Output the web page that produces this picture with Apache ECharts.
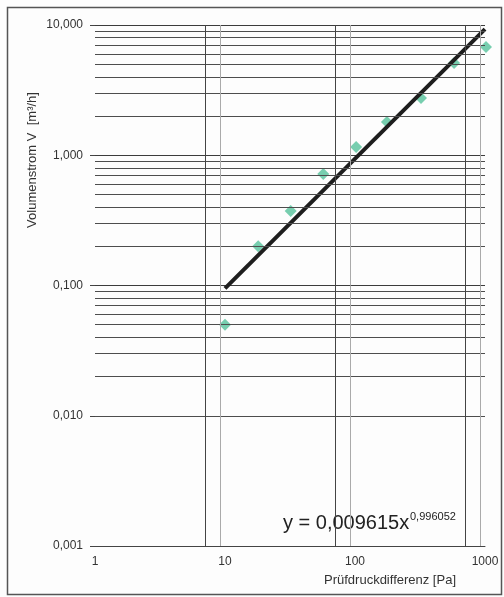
<!DOCTYPE html>
<html>
<head>
<meta charset="utf-8">
<script src="https://cdn.jsdelivr.net/npm/echarts@6/dist/echarts.min.js"></script>
<style>
  html, body { margin: 0; padding: 0; background: #fdfdfd; }
  #chart { width: 504px; height: 597px; }
</style>
</head>
<body>
<div id="chart"></div>
<script>
// Messpunkte: Prüfdruckdifferenz [Pa] / Volumenstrom [m³/h]
const pressure = [10, 18, 32, 57, 102, 176, 322, 578, 1018];
const flow = [0.05, 0.2, 0.373, 0.718, 1.157, 1.8, 2.75, 5.11, 6.78];

// Ausgleichsgerade (Endpunkte aus dem Bild)
const trendX = [10, 1000];
const trendY = [0.095, 9.3];

// Hilfslinien
const minorY = [
  0.002, 0.003, 0.004, 0.005, 0.006, 0.007, 0.008, 0.009,
  0.02, 0.03, 0.04, 0.05, 0.06, 0.07, 0.08, 0.09,
  0.2, 0.3, 0.4, 0.5, 0.6, 0.7, 0.8, 0.9,
  2, 3, 4, 5, 6, 7, 8, 9
];
const darkX = [7, 70, 700];
const lightX = [9.2, 92, 920];

const fontName = 'Liberation Sans, Arial, sans-serif';

function yLabel(v) {
  return v.toFixed(3).replace('.', ',');
}

const chart = echarts.init(document.getElementById('chart'));

const option = {
  animation: false,
  backgroundColor: '#fdfdfd',
  grid: { left: 95, right: 19, top: 25, bottom: 51 },
  xAxis: {
    type: 'log',
    logBase: 10,
    min: 1,
    max: 1000,
    axisLine: { show: true, lineStyle: { color: '#444', width: 1 } },
    axisTick: { show: false },
    splitLine: { show: false },
    axisLabel: {
      color: '#333', fontSize: 12, fontFamily: fontName, margin: 10,
      formatter: v => String(Math.round(v))
    }
  },
  yAxis: {
    type: 'log',
    logBase: 10,
    min: 0.001,
    max: 10,
    axisLine: { show: false },
    axisTick: { show: true, length: 5, lineStyle: { color: '#444' } },
    splitLine: { show: true, lineStyle: { color: '#3c3c3c', width: 1 } },
    axisLabel: { color: '#333', fontSize: 12, fontFamily: fontName, margin: 12, formatter: yLabel }
  },
  series: [
    {
      type: 'line',
      data: [],
      silent: true,
      markLine: {
        silent: true,
        symbol: 'none',
        label: { show: false },
        lineStyle: { type: 'solid' },
        data: minorY.map(v => ({ yAxis: v, lineStyle: { color: '#4d4d4d', width: 1 } }))
          .concat(darkX.map(v => ({ xAxis: v, lineStyle: { color: '#444', width: 1 } })))
          .concat(lightX.map(v => ({ xAxis: v, lineStyle: { color: '#aaa', width: 1 } })))
      }
    },
    {
      type: 'scatter',
      symbol: 'diamond',
      symbolSize: 12,
      clip: false,
      itemStyle: { color: '#55c29b' },
      data: pressure.map((p, i) => [p, flow[i]]),
      z: 3
    },
    {
      type: 'line',
      symbol: 'none',
      clip: false,
      lineStyle: { color: '#1e1e1e', width: 4 },
      data: trendX.map((x, i) => [x, trendY[i]]),
      z: 4
    }
  ],
  graphic: [
    {
      type: 'rect',
      shape: { x: 7.5, y: 7.5, width: 494, height: 587 },
      style: { fill: 'none', stroke: '#555', lineWidth: 1.5 },
      silent: true
    },
    {
      type: 'text',
      x: 32,
      y: 160,
      rotation: Math.PI / 2,
      style: {
        text: 'Volumenstrom V  [m³/h]',
        fill: '#333',
        font: '13px ' + fontName,
        align: 'center',
        verticalAlign: 'middle'
      }
    },
    {
      type: 'text',
      x: 390,
      y: 580,
      style: {
        text: 'Prüfdruckdifferenz [Pa]',
        fill: '#333',
        font: '13px ' + fontName,
        align: 'center',
        verticalAlign: 'middle'
      }
    },
    {
      type: 'text',
      x: 283,
      y: 523,
      style: {
        text: 'y = 0,009615x',
        fill: '#222',
        font: '20px ' + fontName,
        align: 'left',
        verticalAlign: 'middle'
      }
    },
    {
      type: 'text',
      x: 410,
      y: 517,
      style: {
        text: '0,996052',
        fill: '#222',
        font: '11px ' + fontName,
        align: 'left',
        verticalAlign: 'middle'
      }
    }
  ]
};

chart.setOption(option);
</script>
</body>
</html>
